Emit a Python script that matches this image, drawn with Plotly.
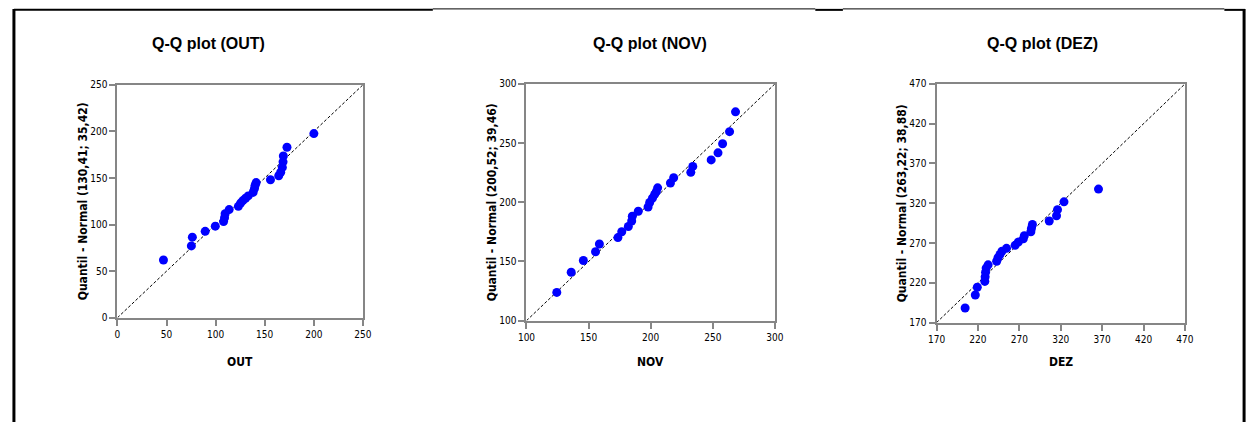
import plotly.graph_objects as go

W, H = 1259, 428

# ---- data (sample value vs. normal quantile) ----
out_sample = [46.9, 75.3, 76.3, 89.4, 99.7, 108.1, 109.1, 109.7, 113.8, 123.2, 125.5, 127.8, 130.5,
              133.2, 138.2, 139.6, 140.3, 141.3, 155.9, 164.3, 166.3, 168.0, 168.7, 169.0, 172.7, 200.1]
out_normal = [62.0, 77.1, 86.5, 92.8, 98.3, 103.2, 107.4, 111.6, 116.1, 119.6, 123.1, 125.8, 128.3,
              130.8, 134.6, 138.8, 142.3, 145.1, 148.2, 152.4, 156.2, 161.4, 167.4, 173.6, 183.0, 197.7]

nov_sample = [124.4, 136.0, 145.8, 155.6, 158.7, 173.6, 176.7, 182.0, 184.7, 185.2, 190.0, 197.9, 199.2,
              201.4, 203.2, 204.5, 205.6, 215.9, 218.5, 232.3, 233.9, 248.7, 254.2, 257.9, 263.5, 268.3]
nov_normal = [123.9, 140.9, 150.8, 158.2, 164.8, 170.2, 175.1, 179.6, 184.2, 188.3, 192.4, 196.0, 199.8,
              203.5, 206.7, 208.9, 212.2, 216.3, 220.7, 225.3, 230.3, 235.8, 241.8, 249.5, 259.7, 276.4]

dez_sample = [204.5, 216.8, 219.2, 228.3, 228.7, 229.2, 229.9, 232.3, 242.6, 244.2, 246.6, 249.0, 254.5,
              264.9, 268.8, 274.8, 276.0, 283.9, 284.6, 285.8, 306.1, 314.9, 316.1, 323.9, 365.6]
dez_normal = [188.4, 204.7, 214.5, 221.8, 227.5, 233.3, 238.5, 242.6, 247.1, 251.6, 255.7, 259.7, 263.4,
              267.1, 271.3, 275.3, 279.3, 284.2, 288.4, 293.3, 297.7, 304.3, 312.0, 321.8, 337.8]

titles = ["Q-Q plot (OUT)", "Q-Q plot (NOV)", "Q-Q plot (DEZ)"]
x_titles = ["OUT", "NOV", "DEZ"]
y_titles = ["Quantil - Normal (130,41; 35,42)", "Quantil - Normal (200,52; 39,46)",
            "Quantil - Normal (263,22; 38,88)"]
ranges = [[0, 250], [100, 300], [170, 470]]
dticks = [50, 50, 50]

samples = [out_sample, nov_sample, dez_sample]
normals = [out_normal, nov_normal, dez_normal]

# ---- layout geometry (pixels) ----
boxes = [  # left, right, top, bottom
    (110, 359, 82, 321),
    (525, 777, 81, 324),
    (941, 1193, 81, 326),
]
title_x = [202, 650, 1048]

fig = go.Figure()
FONT = "DejaVu Sans Condensed, Liberation Sans Narrow, Arial Narrow, Liberation Sans, Arial"
TFONT = "Liberation Sans, Arial"
AXC = "#868686"

annotations = []
for i in range(3):
    l, r, t, b = boxes[i]
    xa = "x" if i == 0 else f"x{i+1}"
    ya = "y" if i == 0 else f"y{i+1}"
    lo, hi = ranges[i]
    fig.add_trace(go.Scatter(x=[lo, hi], y=[lo, hi], mode="lines", xaxis=xa, yaxis=ya,
                             line=dict(color="black", width=1, dash="3px,2px"), showlegend=False,
                             hoverinfo="skip"))
    fig.add_trace(go.Scatter(x=samples[i], y=normals[i], mode="markers", xaxis=xa, yaxis=ya,
                             marker=dict(color="#0000FF", size=9), showlegend=False))
    axcommon = dict(range=ranges[i], dtick=dticks[i], tick0=lo, showgrid=False, zeroline=False,
                    showline=True, linecolor=AXC, linewidth=2, mirror=True, ticks="outside",
                    ticklen=6, tickcolor=AXC, tickwidth=2,
                    tickfont=dict(family=FONT, size=10, color="black"), fixedrange=True)
    fig.layout[("xaxis" if i == 0 else f"xaxis{i+1}")] = dict(
        domain=[l / W, r / W], anchor=ya, **axcommon)
    fig.layout[("yaxis" if i == 0 else f"yaxis{i+1}")] = dict(
        domain=[1 - b / H, 1 - t / H], anchor=xa, **axcommon)
    annotations.append(dict(text=f"<b>{titles[i]}</b>", x=title_x[i] / W, y=1 - 40 / H,
                            xref="paper", yref="paper", showarrow=False,
                            font=dict(family=TFONT, size=16, color="black"),
                            xanchor="center", yanchor="middle"))
    annotations.append(dict(text=f"<b>{x_titles[i]}</b>", x=(l + r) / 2 / W, y=1 - 366 / H,
                            xref="paper", yref="paper", showarrow=False,
                            font=dict(family=FONT, size=12, color="black"),
                            xanchor="center", yanchor="middle"))
    annotations.append(dict(text=f"<b>{y_titles[i]}</b>", x=(l - 35) / W, y=1 - (t + b) / 2 / H,
                            xref="paper", yref="paper", showarrow=False, textangle=-90,
                            font=dict(family=FONT, size=12, color="black"),
                            xanchor="center", yanchor="middle"))

# outer frame pieces
shapes = []
def seg(x0, y0, x1, y1, w):
    shapes.append(dict(type="line", xref="paper", yref="paper", x0=x0 / W, x1=x1 / W,
                       y0=1 - y0 / H, y1=1 - y1 / H, line=dict(color="black", width=w)))
seg(5, 5, 430, 5, 2)
seg(430, 4, 818, 4, 1)
seg(818, 5, 846, 5, 2)
seg(846, 4, 1233, 4, 1)
seg(1233, 5, 1254, 5, 2)
seg(5, 4, 5, 428, 3)
seg(1253, 4, 1253, 428, 3)

fig.update_layout(width=W, height=H, margin=dict(l=0, r=0, t=0, b=0),
                  paper_bgcolor="white", plot_bgcolor="white",
                  annotations=annotations, shapes=shapes, showlegend=False)

fig.write_html("out.html", config={"displayModeBar": False},
               post_script="document.body.style.margin='0';document.body.style.padding='0';"
                           "document.body.style.overflow='hidden';")
